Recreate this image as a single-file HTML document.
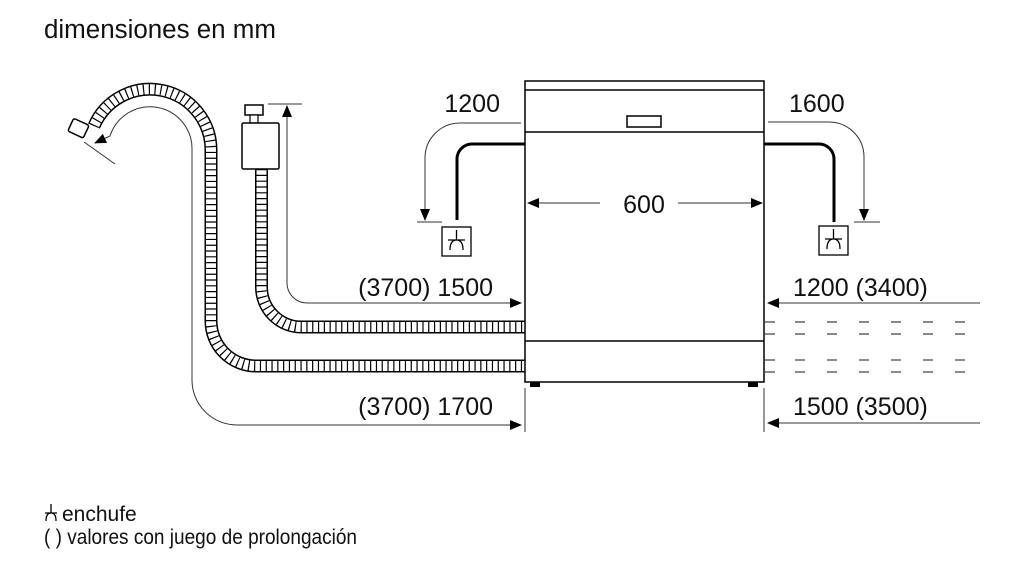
<!DOCTYPE html>
<html><head><meta charset="utf-8"><style>
html,body{margin:0;padding:0;background:#fff;}
svg{display:block;}
text{font-family:"Liberation Sans",Arial,sans-serif;fill:#111;}
</style></head><body>
<svg width="1020" height="570" viewBox="0 0 1020 570" xmlns="http://www.w3.org/2000/svg">
<defs>
<marker id="a" markerWidth="12" markerHeight="10" refX="11" refY="5" orient="auto" markerUnits="userSpaceOnUse"><path d="M0,0 L12,5 L0,10 Z" fill="#000"/></marker>
</defs>
<text x="44" y="38" font-size="25.5" textLength="232" lengthAdjust="spacingAndGlyphs">dimensiones en mm</text>

<g fill="none">
<path d="M94,126 A61,61 0 0 1 211,150 L211,321 A45,45 0 0 0 256,366 L525,366" stroke="#000" stroke-width="13"/>
<path d="M94,126 A61,61 0 0 1 211,150 L211,321 A45,45 0 0 0 256,366 L525,366" stroke="#fff" stroke-width="10"/>
<path d="M94,126 A61,61 0 0 1 211,150 L211,321 A45,45 0 0 0 256,366 L525,366" stroke="#000" stroke-width="10" stroke-dasharray="1.2 4.6"/>
<path d="M261.5,169 L261.5,287 A40,40 0 0 0 301.5,327 L525,327" stroke="#000" stroke-width="13"/>
<path d="M261.5,169 L261.5,287 A40,40 0 0 0 301.5,327 L525,327" stroke="#fff" stroke-width="10"/>
<path d="M261.5,169 L261.5,287 A40,40 0 0 0 301.5,327 L525,327" stroke="#000" stroke-width="10" stroke-dasharray="1.2 4.6"/>
</g>
<rect x="70" y="121" width="17" height="14" rx="2" fill="#fff" stroke="#000" stroke-width="1.5" transform="rotate(25 78 128)"/>
<rect x="245" y="105" width="18" height="10" fill="#fff" stroke="#000" stroke-width="1.5"/>
<rect x="250" y="115" width="8" height="8" fill="#fff" stroke="#000" stroke-width="1.2"/>
<rect x="242" y="123" width="37" height="46" rx="1.5" fill="#fff" stroke="#000" stroke-width="1.5"/>

<g fill="none" stroke="#333" stroke-width="1">
<path d="M192,150 A42,42 0 0 0 110,136 L95,143" marker-end="url(#a)"/>
<path d="M192,150 L192,380 A45,45 0 0 0 237,425 L521,425" marker-end="url(#a)"/>
<line x1="84" y1="142" x2="115" y2="164"/>
<path d="M287,283 A20,20 0 0 0 307,303 L521,303" />
<path d="M287,283 L287,106" marker-end="url(#a)"/>
<line x1="268" y1="104" x2="302" y2="104"/>
<line x1="501" y1="303" x2="521" y2="303" marker-end="url(#a)"/>
<path d="M521,123 L460,123 A35,35 0 0 0 425,158 L425,220" marker-end="url(#a)"/>
<line x1="417" y1="222" x2="442" y2="222"/>
<path d="M768,122 L829,122 A35,35 0 0 1 864,157 L864,220" marker-end="url(#a)"/>
<line x1="854" y1="222" x2="880" y2="222"/>
<line x1="980" y1="303" x2="768" y2="303" marker-end="url(#a)"/>
<line x1="980" y1="423" x2="768" y2="423" marker-end="url(#a)"/>
<line x1="525" y1="388" x2="525" y2="432"/>
<line x1="764" y1="388" x2="764" y2="432"/>
<line x1="600" y1="203" x2="528" y2="203" marker-end="url(#a)"/>
<line x1="678" y1="203" x2="762" y2="203" marker-end="url(#a)"/>
</g>
<g stroke="#444" stroke-width="1.2" stroke-dasharray="10 22">
<line x1="795" y1="322" x2="975" y2="322"/>
<line x1="795" y1="334" x2="975" y2="334"/>
<line x1="795" y1="360" x2="975" y2="360"/>
<line x1="795" y1="372" x2="975" y2="372"/>
<path d="M765,322 H782 M765,334 H782 M765,360 H782 M765,372 H782"/>
</g>

<g fill="none" stroke="#000" stroke-width="3">
<path d="M525,144 L472,144 A15,15 0 0 0 457,159 L457,220"/>
<path d="M764,144 L819,144 A15,15 0 0 1 834,159 L834,222"/>
</g>
<g fill="none" stroke="#000" stroke-width="1.3">
<rect x="442" y="227" width="29" height="29"/>
<path d="M456.5,230 V240 M448,240 H465 M450,250 Q450,240 456.5,240 Q463,240 463,250"/>
<rect x="819" y="226" width="29" height="29"/>
<path d="M833.5,229 V239 M825,239 H842 M827,249 Q827,239 833.5,239 Q840,239 840,249"/>
</g>

<g fill="none" stroke="#000" stroke-width="1.5">
<rect x="525" y="81" width="239" height="301"/>
<line x1="525" y1="90" x2="764" y2="90"/>
<line x1="525" y1="132" x2="764" y2="132"/>
<line x1="525" y1="341" x2="764" y2="341"/>
<rect x="627" y="116" width="34" height="11"/>
</g>
<rect x="530" y="382" width="10" height="5" fill="#000"/>
<rect x="748" y="382" width="10" height="5" fill="#000"/>

<text x="644" y="213" font-size="25" text-anchor="middle">600</text>
<text x="500" y="112" font-size="25" text-anchor="end">1200</text>
<text x="789" y="112" font-size="25">1600</text>
<text x="493" y="296" font-size="25" text-anchor="end">(3700) 1500</text>
<text x="493" y="415" font-size="25" text-anchor="end">(3700) 1700</text>
<text x="793" y="296" font-size="25">1200 (3400)</text>
<text x="793" y="415" font-size="25">1500 (3500)</text>

<g fill="none" stroke="#000" stroke-width="1.3">
<path d="M51,504 V513 M45,513 H57 M46,521 Q46,513 51,513 Q56,513 56,521"/>
</g>
<text x="62" y="521" font-size="21">enchufe</text>
<text x="44" y="544" font-size="21" textLength="313" lengthAdjust="spacingAndGlyphs">( ) valores con juego de prolongación</text>
</svg>
</body></html>
